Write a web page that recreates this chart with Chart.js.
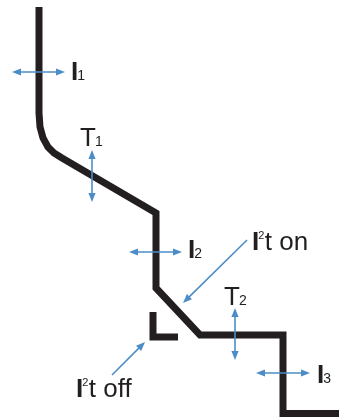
<!DOCTYPE html>
<html>
<head>
<meta charset="utf-8">
<script src="https://cdn.jsdelivr.net/npm/chart.js@4"></script>
<style>
  html, body { margin: 0; padding: 0; background: #fff; }
  #wrap { width: 339px; height: 418px; position: relative; }
</style>
</head>
<body>
<div id="wrap"><canvas id="grafico"></canvas></div>
<script>
// curva de disparo (coordenadas en unidades del eje, 0..339 x 0..418)
const curvaX = [39, 39, 40, 43, 48, 54, 62, 156, 156, 200, 283, 283, 339];
const curvaY = [7, 113, 127, 138, 147, 153, 158, 213, 288, 335, 335, 413.5, 413.5];

// tramo I2t off
const offX = [153, 153, 178];
const offY = [312, 337, 337];

// flechas: [x1, y1, x2, y2, doble]
const flechas = [
    [12, 72, 65, 72, true],     // I1
    [92, 150, 92, 202, true],   // T1
    [129, 252, 182, 252, true], // I2
    [235, 308, 235, 360, true], // T2
    [256, 373, 310, 373, true], // I3
    [247, 240, 183, 303, false], // I2t on
    [112, 375, 145, 342, false]  // I2t off
];

// etiquetas: letra, indice, tipo de indice, resto
const etiquetas = ['I1', 'T1', 'I2', 'T2', 'I3', 'I²t on', 'I²t off'];
const letras = ['I', 'T', 'I', 'T', 'I', 'I', 'I'];
const indices = ['1', '1', '2', '2', '3', '2', '2'];
const tipoIndice = ['sub', 'sub', 'sub', 'sub', 'sub', 'sup', 'sup'];
const restos = ['', '', '', '', '', 't on', 't off'];
const posX = [71, 80, 188, 224, 317, 252, 76];
const posY = [80, 146, 258, 305, 383, 250, 397];

const azul = '#4c8dc7';
const negro = '#231f20';

function aPuntos(xs, ys) {
    return xs.map((x, i) => ({ x: x, y: ys[i] }));
}

const pluginAnotaciones = {
    id: 'anotaciones',
    afterDatasetsDraw(chart) {
        const ctx = chart.ctx;
        const sx = chart.scales.x;
        const sy = chart.scales.y;
        ctx.save();

        // flechas
        ctx.strokeStyle = azul;
        ctx.fillStyle = azul;
        ctx.lineWidth = 1.6;
        flechas.forEach(f => {
            const x1 = sx.getPixelForValue(f[0]);
            const y1 = sy.getPixelForValue(f[1]);
            const x2 = sx.getPixelForValue(f[2]);
            const y2 = sy.getPixelForValue(f[3]);
            const ang = Math.atan2(y2 - y1, x2 - x1);
            const largo = 9;
            const ancho = 3.6;
            const ini = f[4] ? largo - 1 : 0;
            ctx.beginPath();
            ctx.moveTo(x1 + Math.cos(ang) * ini, y1 + Math.sin(ang) * ini);
            ctx.lineTo(x2 - Math.cos(ang) * (largo - 1), y2 - Math.sin(ang) * (largo - 1));
            ctx.stroke();
            dibujarPunta(ctx, x2, y2, ang, largo, ancho);
            if (f[4]) {
                dibujarPunta(ctx, x1, y1, ang + Math.PI, largo, ancho);
            }
        });

        // etiquetas
        ctx.fillStyle = negro;
        ctx.textBaseline = 'alphabetic';
        ctx.textAlign = 'left';
        etiquetas.forEach((_, i) => {
            const x = sx.getPixelForValue(posX[i]);
            const y = sy.getPixelForValue(posY[i]);
            const letra = letras[i];
            if (letra === 'I') {
                ctx.font = 'bold 26px "Liberation Sans", Arial, sans-serif';
            } else {
                ctx.font = '26px "Liberation Sans", Arial, sans-serif';
            }
            ctx.fillText(letra, x, y);
            let w = ctx.measureText(letra).width;
            if (letra === 'T') w -= 1;
            if (letra === 'I') w -= 1;
            if (tipoIndice[i] === 'sub') {
                ctx.font = '14px "Liberation Sans", Arial, sans-serif';
                ctx.fillText(indices[i], x + w, y);
            } else {
                ctx.font = '11px "Liberation Sans", Arial, sans-serif';
                ctx.fillText(indices[i], x + w, y - 11);
                const ws = ctx.measureText(indices[i]).width;
                ctx.font = '26px "Liberation Sans", Arial, sans-serif';
                ctx.fillText(restos[i], x + w + ws + 0.5, y);
            }
        });
        ctx.restore();
    }
};

function dibujarPunta(ctx, x, y, ang, largo, ancho) {
    ctx.beginPath();
    ctx.moveTo(x, y);
    ctx.lineTo(x - Math.cos(ang) * largo - Math.sin(ang) * ancho, y - Math.sin(ang) * largo + Math.cos(ang) * ancho);
    ctx.lineTo(x - Math.cos(ang) * largo + Math.sin(ang) * ancho, y - Math.sin(ang) * largo - Math.cos(ang) * ancho);
    ctx.closePath();
    ctx.fill();
}

const ctx = document.getElementById('grafico').getContext('2d');
new Chart(ctx, {
    type: 'scatter',
    data: {
        datasets: [{
            data: aPuntos(curvaX, curvaY),
            showLine: true,
            borderColor: negro,
            borderWidth: 7,
            borderJoinStyle: 'miter',
            borderCapStyle: 'butt',
            pointRadius: 0,
            tension: 0
        }, {
            data: aPuntos(offX, offY),
            showLine: true,
            borderColor: negro,
            borderWidth: 7,
            borderJoinStyle: 'miter',
            borderCapStyle: 'butt',
            pointRadius: 0,
            tension: 0
        }]
    },
    options: {
        responsive: true,
        maintainAspectRatio: false,
        animation: false,
        layout: { padding: 0 },
        plugins: {
            legend: { display: false },
            tooltip: { enabled: false }
        },
        scales: {
            x: { type: 'linear', min: 0, max: 339, display: false },
            y: { type: 'linear', min: 0, max: 418, reverse: true, display: false }
        }
    },
    plugins: [pluginAnotaciones]
});
</script>
</body>
</html>
